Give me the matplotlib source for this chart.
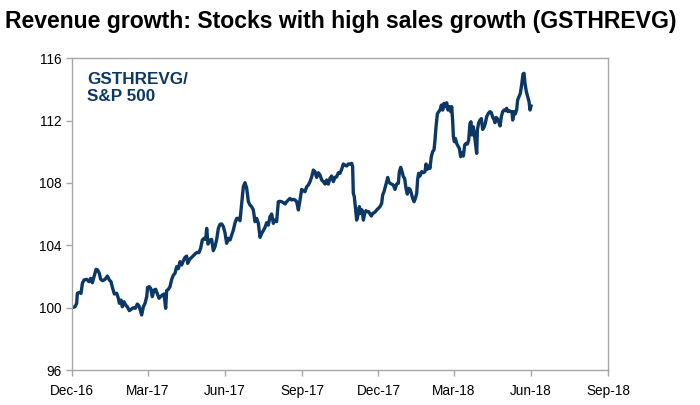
import matplotlib
matplotlib.use('Agg')
import matplotlib.pyplot as plt
import matplotlib.dates as mdates
import pandas as pd

plt.rcParams['font.family'] = ['Liberation Sans', 'DejaVu Sans']

start = pd.Timestamp('2016-12-01')

# days after 1 Dec 2016
days = [0.0, 3.2, 5.2, 6.0, 8.4, 10.4, 12.0, 14.0, 17.1, 19.9, 21.9, 23.9, 25.9, 28.3, 30.2,
        32.2, 33.8, 36.2, 39.0, 41.8, 44.1, 46.1, 48.1, 50.1, 52.9, 54.9, 56.1, 58.1, 59.6, 61.6,
        63.6, 65.6, 68.0, 70.0, 72.8, 75.1, 77.5, 79.5, 80.7, 82.7, 84.7, 86.7, 88.7, 89.8, 91.8,
        93.4, 95.4, 97.4, 99.4, 101.4, 103.4, 105.3, 107.3, 109.3, 111.3, 112.5, 114.5, 116.5, 118.5, 120.5,
        122.4, 124.4, 126.4, 128.4, 130.4, 132.4, 134.4, 136.3, 137.5, 139.5, 141.1, 143.1, 145.1, 147.1, 149.1,
        151.0, 153.0, 155.0, 157.0, 159.0, 160.2, 161.8, 164.2, 166.1, 168.1, 170.1, 172.1, 174.1, 176.1, 178.1,
        180.1, 182.0, 184.0, 186.0, 188.0, 190.0, 192.0, 194.0, 196.0, 197.9, 199.9, 201.9, 203.9, 205.9, 207.9,
        209.9, 211.8, 213.8, 215.8, 217.8, 219.8, 221.8, 223.8, 225.8, 227.7, 229.7, 231.7, 233.7, 235.7, 237.7,
        239.7, 241.6, 243.6, 245.6, 247.6, 249.6, 251.6, 253.6, 255.6, 257.5, 259.5, 261.5, 263.5, 265.5, 267.5,
        269.5, 271.5, 273.4, 275.4, 277.4, 279.4, 281.4, 283.4, 285.4, 287.4, 289.3, 291.3, 293.3, 295.3, 297.3,
        299.3, 301.3, 303.3, 305.2, 307.2, 309.2, 311.2, 313.2, 315.2, 317.2, 319.1, 321.1, 323.1, 325.1, 327.1,
        329.1, 331.1, 333.1, 334.2, 335.0, 336.2, 337.4, 339.0, 340.6, 342.2, 343.8, 345.4, 347.0, 348.6, 350.1,
        351.7, 353.3, 354.9, 356.5, 358.1, 359.7, 361.3, 362.9, 364.8, 366.8, 368.8, 370.0, 371.6, 373.2, 374.8,
        376.0, 377.2, 378.8, 380.7, 382.7, 384.7, 386.7, 388.7, 389.9, 391.5, 393.1, 394.7, 396.2, 397.8, 399.4,
        401.0, 402.6, 404.2, 405.8, 407.4, 409.0, 410.6, 411.7, 412.9, 414.5, 416.5, 418.5, 420.5, 421.7, 423.3,
        424.9, 426.4, 428.0, 429.6, 431.2, 432.4, 433.6, 435.2, 436.8, 438.4, 440.0, 441.6, 443.1, 444.7, 446.3,
        447.9, 449.5, 451.1, 452.3, 453.5, 454.3, 455.5, 456.7, 458.2, 459.8, 461.4, 463.0, 464.6, 466.2, 467.8,
        469.4, 471.0, 472.6, 474.1, 475.3, 476.5, 478.1, 479.7, 481.3, 482.1, 482.9, 484.5, 486.1, 487.7, 489.2,
        490.8, 492.4, 494.0, 496.0, 498.0, 499.6, 501.2, 502.7, 503.9, 505.1, 506.7, 508.3, 509.9, 511.5, 513.1,
        514.7, 516.3, 517.8, 519.4, 521.0, 522.6, 524.2, 525.0, 526.6, 528.2, 529.8, 530.9, 532.5, 534.1, 535.7,
        537.3, 538.5, 539.7, 541.3, 542.9, 544.5, 545.7, 546.9]

ratio = [100.00, 100.06, 100.28, 100.92, 100.98, 100.92, 101.56, 101.78, 101.82, 101.67, 101.88, 101.60, 101.99, 102.46, 102.42,
         102.20, 101.82, 101.73, 101.82, 102.03, 101.78, 101.67, 101.24, 100.88, 100.92, 100.60, 100.28, 100.49, 100.06, 100.38,
         100.17, 100.06, 99.81, 99.89, 100.00, 99.96, 100.23, 100.11, 99.89, 99.53, 100.06, 100.28, 100.71, 101.30, 101.35,
         101.24, 100.71, 101.13, 101.18, 100.88, 100.60, 100.71, 100.81, 100.88, 99.96, 101.09, 101.18, 101.35, 101.82, 102.09,
         102.20, 102.63, 102.50, 102.95, 102.74, 103.01, 103.23, 103.31, 102.84, 103.06, 103.17, 103.27, 103.38, 103.49, 103.55,
         103.53, 103.81, 104.34, 104.45, 104.38, 105.09, 104.08, 104.34, 104.38, 103.66, 103.91, 104.38, 105.09, 105.35, 105.37,
         105.20, 104.81, 104.13, 104.45, 104.34, 104.66, 104.98, 105.45, 105.73, 105.73, 105.58, 106.69, 107.76, 108.02, 107.66,
         106.80, 106.59, 106.48, 106.27, 105.52, 105.73, 105.41, 104.51, 104.77, 104.94, 105.15, 105.45, 105.30, 105.84, 106.01,
         105.41, 105.62, 105.52, 106.80, 106.82, 106.80, 106.74, 106.65, 106.80, 106.91, 107.01, 106.91, 106.95, 106.91, 106.80,
         106.27, 106.91, 107.59, 107.51, 107.44, 107.76, 107.87, 108.09, 108.40, 108.83, 108.73, 108.36, 108.66, 108.51, 108.19,
         108.09, 107.93, 108.19, 107.93, 108.30, 108.45, 108.09, 108.36, 108.40, 108.66, 108.62, 108.88, 109.22, 109.15, 109.09,
         109.22, 109.22, 109.26, 109.05, 107.34, 107.12, 106.48, 105.62, 105.94, 106.48, 106.05, 106.27, 105.62, 106.05, 106.22,
         106.16, 106.16, 106.01, 105.88, 106.05, 106.09, 106.16, 106.27, 106.37, 106.48, 106.69, 107.23, 107.44, 107.76, 108.09,
         108.36, 108.09, 107.98, 107.93, 107.87, 107.59, 107.93, 107.98, 108.73, 109.00, 108.73, 108.40, 108.30, 107.66, 107.29,
         107.66, 107.59, 107.34, 107.01, 106.80, 107.01, 107.34, 108.23, 108.62, 108.45, 108.73, 108.66, 108.73, 109.22, 108.88,
         109.09, 108.94, 109.69, 110.01, 110.12, 110.76, 111.61, 112.43, 112.58, 112.68, 113.00, 112.68, 113.11, 112.90, 113.15,
         112.68, 112.90, 112.58, 112.90, 111.93, 110.97, 110.65, 110.86, 110.54, 110.37, 110.22, 109.69, 109.94, 109.73, 110.44,
         110.54, 110.50, 110.76, 111.83, 111.93, 111.08, 111.61, 110.97, 110.22, 109.90, 111.40, 111.87, 112.04, 112.13, 111.44,
         111.57, 111.83, 112.26, 112.47, 112.58, 112.51, 112.21, 112.08, 111.87, 112.21, 112.13, 111.93, 111.66, 112.26, 112.58,
         112.68, 112.64, 112.79, 112.58, 112.64, 112.58, 112.58, 112.04, 112.58, 112.43, 112.73, 113.32, 113.54, 113.75, 114.29,
         114.99, 115.04, 114.39, 113.86, 113.54, 113.22, 112.68, 112.94]

tick_dates = ['2016-12-01', '2017-03-01', '2017-06-01', '2017-09-01',
              '2017-12-01', '2018-03-01', '2018-06-01', '2018-09-01']
y_ticks = [96, 100, 104, 108, 112, 116]

dates = start + pd.to_timedelta(days, unit='D')

fig = plt.figure(figsize=(7, 4.05), dpi=100)
ax = fig.add_axes([0.1033, 0.0864, 0.7657, 0.7696])

ax.plot(dates, ratio, color='#0c3865', linewidth=2.4, solid_joinstyle='round')

ax.set_xlim(pd.Timestamp(tick_dates[0]), pd.Timestamp(tick_dates[-1]))
ax.set_ylim(96, 116)
ax.set_xticks(pd.to_datetime(tick_dates))
ax.xaxis.set_major_formatter(mdates.DateFormatter('%b-%y'))
ax.set_yticks(y_ticks)

for s in ax.spines.values():
    s.set_color('#a6a6a6')
    s.set_linewidth(1.0)
ax.tick_params(axis='both', colors='#a6a6a6', length=4, width=1.0,
               labelcolor='black', labelsize=9.8)
ax.tick_params(axis='x', pad=6)
ax.tick_params(axis='y', pad=4)

ax.text(0.028, 0.955, 'GSTHREVG/\nS&P 500', transform=ax.transAxes,
        ha='left', va='top', fontsize=12.3, fontweight='bold',
        color='#0c3865', linespacing=1.1)

fig.text(0.007, 0.975, 'Revenue growth: Stocks with high sales growth (GSTHREVG)',
         ha='left', va='top', fontsize=16.6, fontweight='bold', color='black')

fig.savefig('out.png', dpi=100)
